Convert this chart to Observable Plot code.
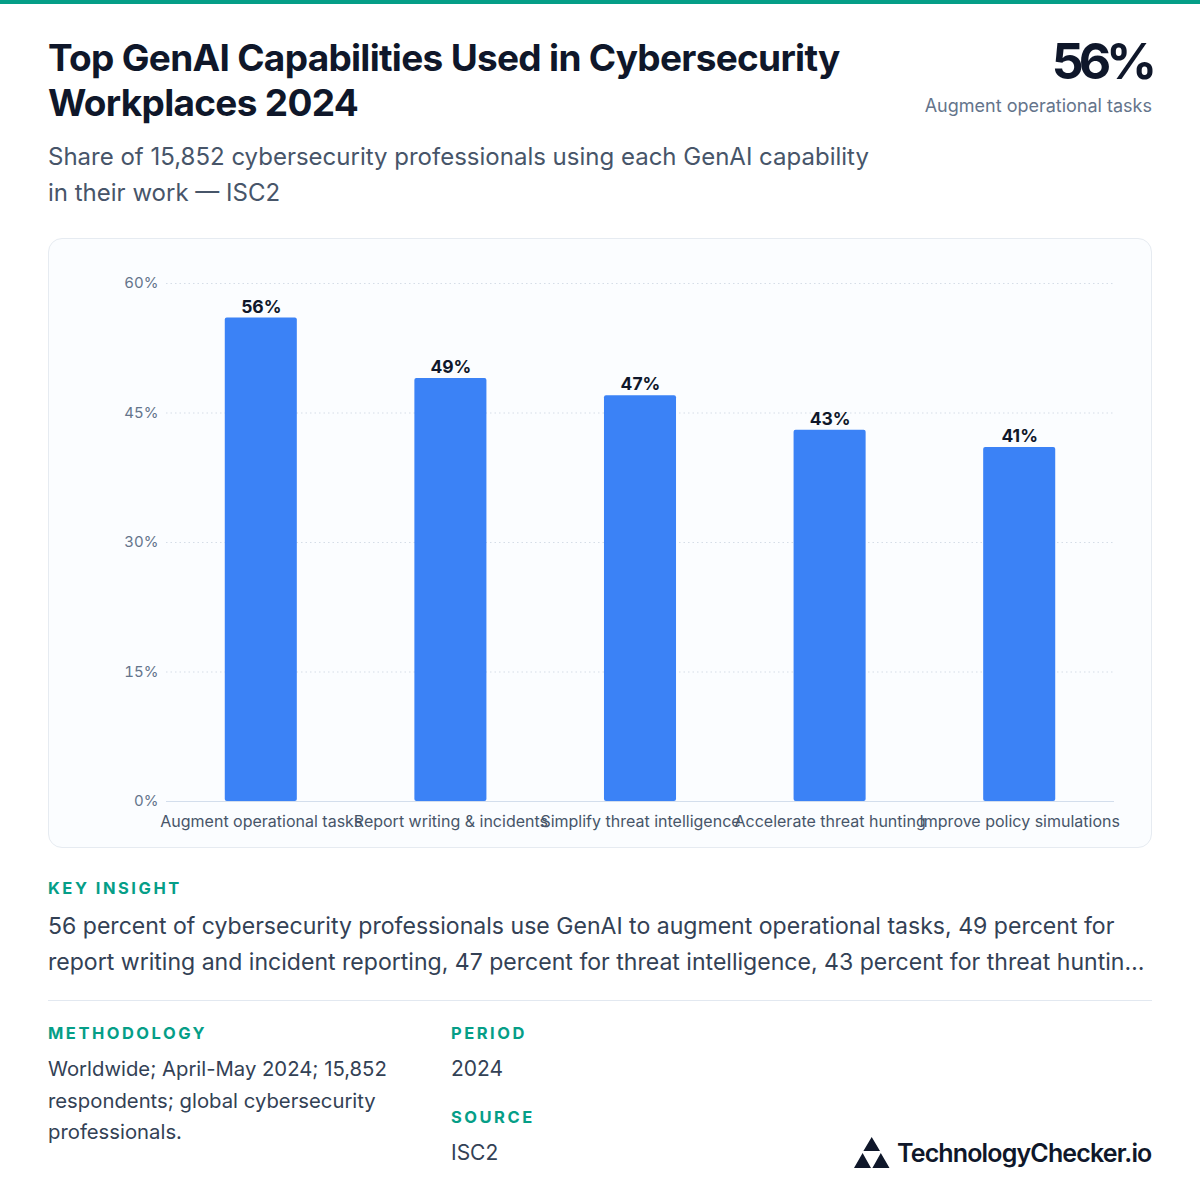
<!DOCTYPE html>
<html><head><meta charset="utf-8">
<script src="https://cdn.jsdelivr.net/npm/d3@7"></script>
<script src="https://cdn.jsdelivr.net/npm/@observablehq/plot@0.6"></script>
<style>
html,body{margin:0;padding:0;background:#fff;font-family:Inter,sans-serif}
#page{position:relative;width:1200px;height:1200px;overflow:hidden;background:#fff}
#page>*{position:absolute;white-space:nowrap}
.label{font-size:16.5px;font-weight:700;letter-spacing:2.5px;color:#059e87;line-height:20px}
.body{font-size:21px;color:#334155;line-height:32px}
</style></head><body>
<div id="page">
<div style="left:0;top:0;width:1200px;height:4px;background:#059e87"></div>
<div style="left:48px;top:35px;font-size:37px;font-weight:700;letter-spacing:-0.7px;line-height:45px;color:#0f172a">Top GenAI Capabilities Used in Cybersecurity<br>Workplaces 2024</div>
<div style="right:48px;top:32px;font-size:50px;font-weight:700;letter-spacing:-5px;line-height:58px;color:#0f172a">56%</div>
<div style="right:48px;top:94px;font-size:18px;line-height:24px;color:#64748b">Augment operational tasks</div>
<div style="left:48px;top:139px;font-size:24px;line-height:36px;color:#475569">Share of 15,852 cybersecurity professionals using each GenAI capability<br>in their work — ISC2</div>
<div id="card" style="left:48px;top:238px;width:1102px;height:608px;background:#fbfdff;border:1px solid #e6ebf1;border-radius:14px"></div>
<div class="label" style="left:48px;top:878px">KEY INSIGHT</div>
<div style="left:48px;top:908px;font-size:23.07px;line-height:36px;color:#334155">56 percent of cybersecurity professionals use GenAI to augment operational tasks, 49 percent for<br>report writing and incident reporting, 47 percent for threat intelligence, 43 percent for threat huntin…</div>
<div style="left:48px;top:1000px;width:1104px;height:1px;background:#e2e8f0"></div>
<div class="label" style="left:48px;top:1023px">METHODOLOGY</div>
<div class="body" style="left:48px;top:1053px;font-size:20.3px;line-height:31.5px">Worldwide; April-May 2024; 15,852<br>respondents; global cybersecurity<br>professionals.</div>
<div class="label" style="left:451px;top:1023px">PERIOD</div>
<div class="body" style="left:451px;top:1053px">2024</div>
<div class="label" style="left:451px;top:1107px">SOURCE</div>
<div class="body" style="left:451px;top:1137px">ISC2</div>
<svg style="left:854px;top:1137px" width="36" height="32" viewBox="0 0 36 32"><path fill="#0f172a" d="M17.7 0L26 14H9.4zM8.6 16L17 31H0zM26.8 16L35.5 31H18.4z"/></svg>
<div style="left:897px;top:1136px;font-size:25px;font-weight:600;letter-spacing:-0.85px;line-height:34px;color:#0f172a">TechnologyChecker.io</div>
</div>
<script>
const categories=["Augment operational tasks","Report writing & incidents","Simplify threat intelligence","Accelerate threat hunting","Improve policy simulations"];
const shares=[56,49,47,43,41];
const yTicks=[0,15,30,45,60];
const rows=categories.map((c,i)=>({c,v:shares[i]}));
const chart=Plot.plot({
  width:1104,height:610,marginLeft:118,marginRight:38,marginTop:45,marginBottom:47,
  style:{background:"transparent",fontFamily:"Inter, sans-serif",overflow:"visible"},
  x:{domain:categories,paddingInner:0.62,paddingOuter:0.31,align:0.5,round:false,label:null,tickSize:0,tickPadding:0},
  y:{domain:[0,60],label:null,ticks:yTicks},
  marks:[
    Plot.ruleY(yTicks.filter(d=>d>0),{stroke:"#d5dde7",strokeWidth:1.2,strokeDasharray:"1.5 3"}),
    Plot.ruleY([0],{stroke:"#d3deec",strokeWidth:1.2}),
    Plot.rectY(rows,{x:"c",y:"v",fill:"#3b82f6",rx:2}),
    Plot.text(rows,{x:"c",y:"v",text:d=>d.v+"%",dy:-11,fontSize:17.5,fontWeight:700,fill:"#0f172a"}),
    Plot.axisY({ticks:yTicks,tickFormat:d=>d+"%",tickSize:0,tickPadding:8,fontSize:15,fill:"#64748b",label:null}),
    Plot.axisX({tickSize:0,tickPadding:14,fontSize:16,fill:"#475569",label:null,lineWidth:Infinity,textOverflow:null})
  ]
});
chart.style.position="absolute";chart.style.left="48px";chart.style.top="238px";
document.getElementById("page").appendChild(chart);
</script>
</body></html>
